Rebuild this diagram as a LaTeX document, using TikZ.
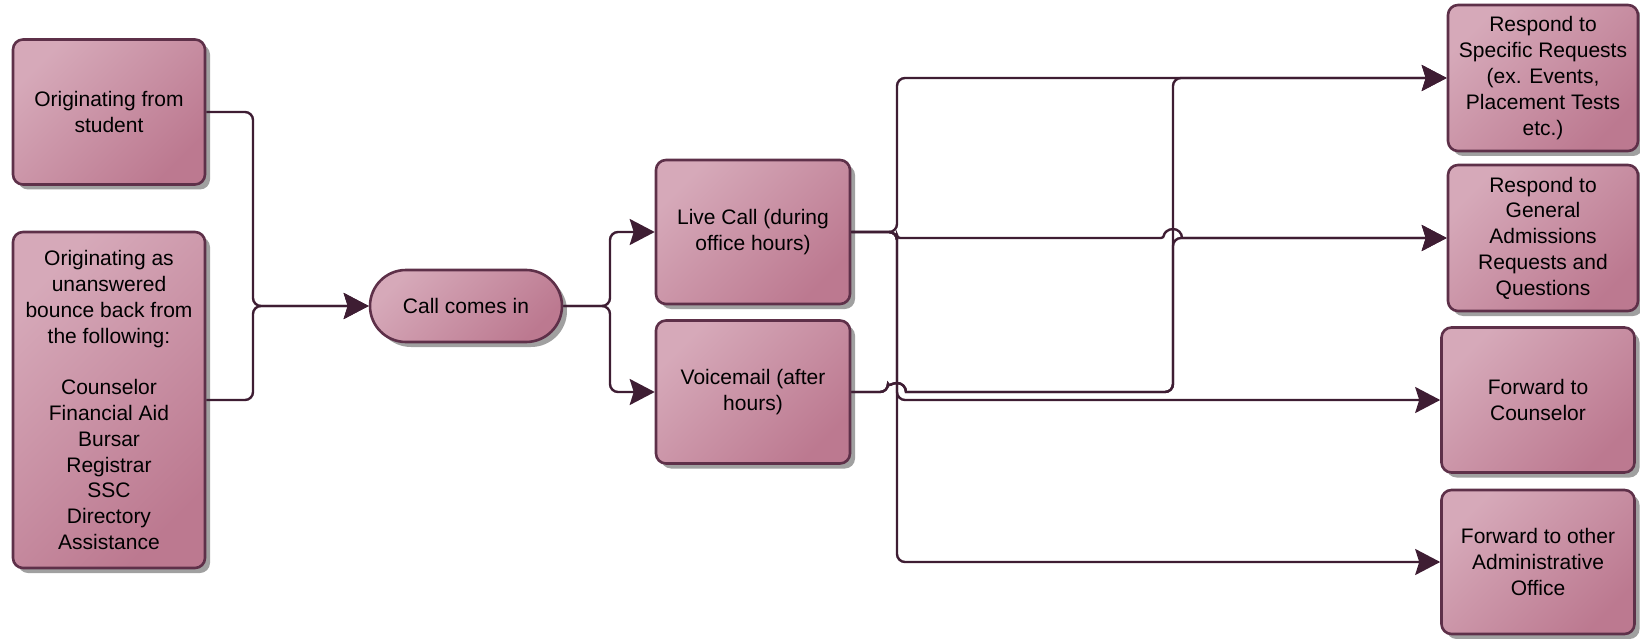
\documentclass[tikz,border=0pt]{standalone}
\usepackage{fontspec}
\setmainfont{Liberation Sans}
\usetikzlibrary{arrows.meta,shadows}
\definecolor{boxlight}{HTML}{D6A9B9}
\definecolor{boxdark}{HTML}{BC7990}
\definecolor{boxline}{HTML}{5E3049}
\definecolor{wire}{HTML}{3E1D33}
\definecolor{shadegray}{HTML}{A0A0A0}
\begin{document}
\begin{tikzpicture}[x=1pt,y=-1pt,
    box/.style={draw=boxline,line width=2.6pt,rounded corners=10pt,
      top color=boxlight,bottom color=boxdark,shading angle=45,
      drop shadow={shadow xshift=5pt,shadow yshift=-5pt,fill=shadegray,opacity=1},
      inner sep=0pt,align=center,font=\fontsize{21}{25.8}\selectfont},
    pill/.style={box,rounded corners=36pt},
    conn/.style={draw=wire,line width=2.4pt,rounded corners=8pt},
    arr/.style={conn,-{Stealth[length=25pt,width=26pt,inset=4pt]}}]
    \useasboundingbox (0,0) rectangle (1640,639);
    % sources
    \node[box,minimum width=192pt,minimum height=145pt] (student) at (109,112) {Originating from\\student};
    \node[box,minimum width=192pt,minimum height=336pt] (bounce) at (109,400) {Originating as\\unanswered\\bounce back from\\the following:\\[25.8pt]Counselor\\Financial Aid\\Bursar\\Registrar\\SSC\\Directory\\Assistance};
    \node[pill,minimum width=192pt,minimum height=72pt] (call) at (466,306) {Call comes in};
    \node[box,minimum width=194pt,minimum height=144pt] (live) at (753,232) {Live Call (during\\office hours)};
    \node[box,minimum width=194pt,minimum height=143pt] (voice) at (753,392) {Voicemail (after\\hours)};
    % targets
    \node[box,minimum width=190pt,minimum height=146pt] (specific) at (1543,78) {Respond to\\Specific Requests\\(ex. Events,\\Placement Tests\\etc.)};
    \node[box,minimum width=190pt,minimum height=146pt] (general) at (1543,238) {Respond to\\General\\Admissions\\Requests and\\Questions};
    \node[box,minimum width=193pt,minimum height=145pt] (counselor) at (1538,400) {Forward to\\Counselor};
    \node[box,minimum width=193pt,minimum height=144pt] (other) at (1538,562) {Forward to other\\Administrative\\Office};
    % junctions and hops
    \coordinate (j1) at (253,306);
    \coordinate (j2) at (610,306);
    \coordinate (j3) at (897,232);
    \coordinate (j4) at (1173,392);
    \coordinate (h1) at (1173,238);
    \coordinate (h2) at (897,392);
    \draw[arr] (student.east) -| (j1) -- (call.west);
    \draw[arr] (bounce.east) -| (j1) -- (call.west);
    \draw[arr] (call.east) -- (j2) |- (live.west);
    \draw[arr] (call.east) -- (j2) |- (voice.west);
    \draw[arr] (live.east) -- (j3) |- (specific.west);
    \draw[arr] (live.east) -- (j3) [rounded corners=3pt] |- ([xshift=-9pt]h1) [sharp corners] arc[start angle=180,end angle=360,radius=9] -- (general.west);
    \draw[arr] (live.east) -- (j3) |- (counselor.west);
    \draw[arr] (live.east) -- (j3) |- (other.west);
    \draw[arr] (voice.east) -- ([xshift=-9pt]h2) [sharp corners] arc[start angle=180,end angle=360,radius=9] [rounded corners=8pt] -- (j4) |- (specific.west);
    \draw[arr] (voice.east) -- ([xshift=-9pt]h2) [sharp corners] arc[start angle=180,end angle=360,radius=9] [rounded corners=8pt] -- (j4) |- (general.west);
\end{tikzpicture}
\end{document}
